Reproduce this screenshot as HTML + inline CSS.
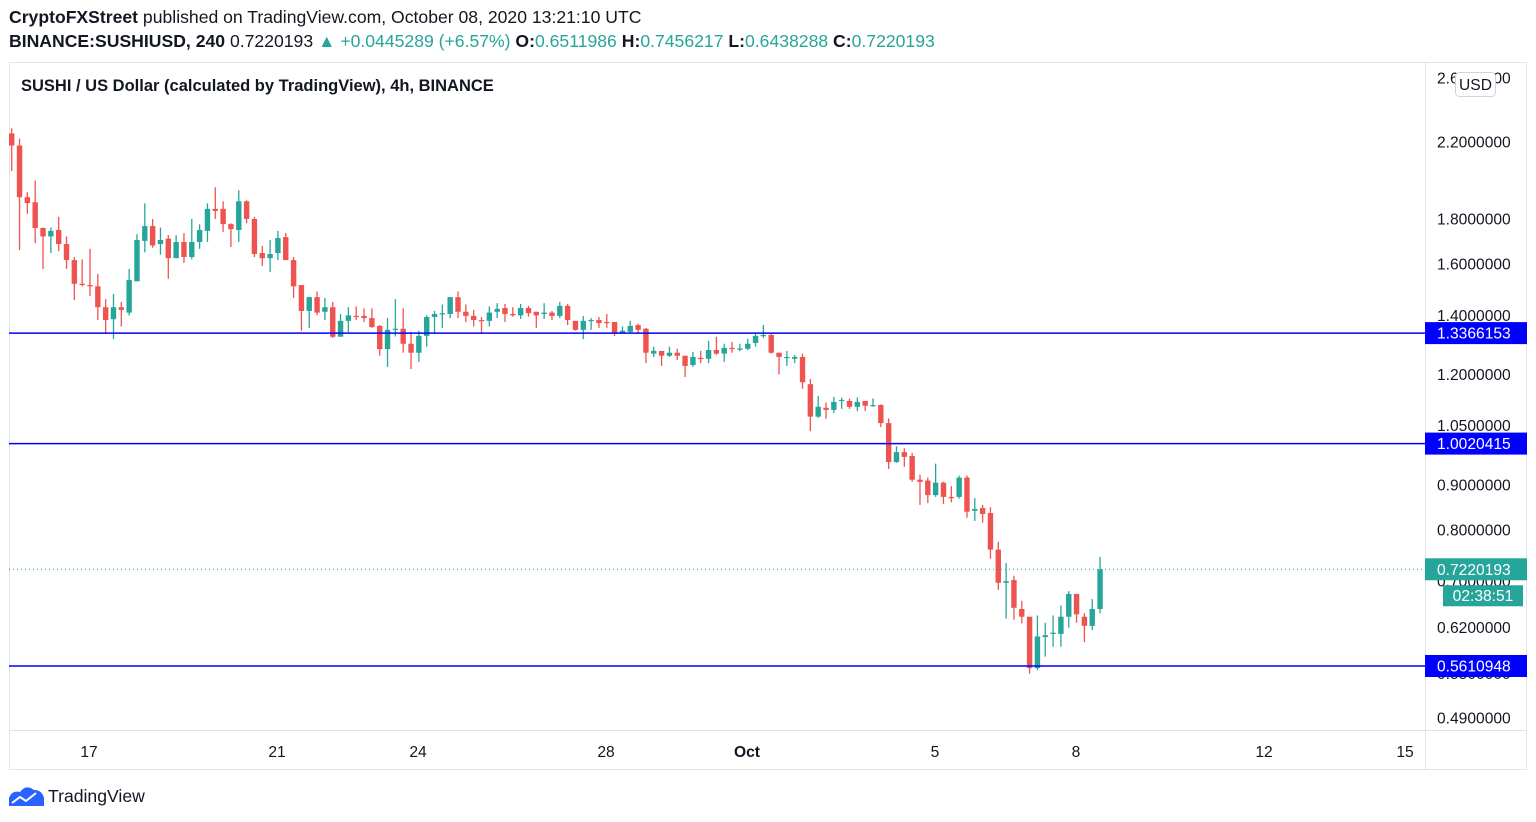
<!DOCTYPE html>
<html><head><meta charset="utf-8"><style>
body{margin:0;width:1536px;height:822px;background:#fff;overflow:hidden;font-family:"Liberation Sans",sans-serif;position:relative}
.hd{position:absolute;left:9px;font-size:17.6px;color:#131722;white-space:nowrap}
.g{color:#26a69a}
</style></head><body>
<div class="hd" style="top:7px"><b>CryptoFXStreet</b> published on TradingView.com, October 08, 2020 13:21:10 UTC</div>
<div class="hd" style="top:31px"><b>BINANCE:SUSHIUSD, 240</b> 0.7220193 <span class="g">▲ +0.0445289 (+6.57%)</span> <b>O:</b><span class="g">0.6511986</span> <b>H:</b><span class="g">0.7456217</span> <b>L:</b><span class="g">0.6438288</span> <b>C:</b><span class="g">0.7220193</span></div>
<svg id="c" width="1536" height="822" style="position:absolute;left:0;top:0"></svg>
<script>
const opens=[2.25,2.18,1.905,1.88,1.758,1.72,1.749,1.686,1.617,1.52,1.515,1.51,1.43,1.386,1.43,1.41,1.53,1.70,1.767,1.686,1.71,1.625,1.695,1.63,1.695,1.745,1.848,1.848,1.776,1.749,
1.885,1.80,1.647,1.625,1.647,1.717,1.617,1.515,1.416,1.468,1.413,1.43,1.324,1.38,1.398,1.398,1.39,1.362,1.282,1.348,1.352,1.30,1.27,1.327,1.394,1.405,1.405,1.468,
1.413,1.398,1.383,1.38,1.413,1.427,1.405,1.40,1.427,1.413,1.405,1.41,1.398,1.435,1.38,1.348,1.38,1.383,1.376,1.376,1.338,1.341,1.365,1.352,1.267,1.276,1.26,1.27,
1.26,1.23,1.253,1.25,1.279,1.267,1.286,1.28,1.283,1.303,1.327,1.33,1.27,1.253,1.25,1.256,1.17,1.075,1.10,1.094,1.12,1.12,1.103,1.12,1.106,1.108,1.057,0.955,
0.98,0.97,0.912,0.91,0.876,0.905,0.872,0.872,0.917,0.841,0.847,0.836,0.76,0.697,0.702,0.651,0.638,0.558,0.605,0.61,0.61,0.638,0.677,0.638,0.623,0.651];
const highs=[2.28,2.22,1.93,1.99,1.76,1.76,1.81,1.72,1.63,1.62,1.665,1.56,1.46,1.48,1.45,1.58,1.73,1.875,1.80,1.76,1.726,1.725,1.735,1.80,1.775,1.875,1.955,1.885,1.78,1.94,
1.89,1.81,1.678,1.704,1.745,1.735,1.63,1.515,1.47,1.49,1.465,1.45,1.405,1.43,1.433,1.426,1.426,1.365,1.39,1.46,1.426,1.34,1.345,1.40,1.416,1.44,1.468,1.49,
1.44,1.42,1.394,1.433,1.445,1.442,1.43,1.442,1.435,1.413,1.445,1.416,1.45,1.442,1.38,1.398,1.39,1.394,1.405,1.376,1.36,1.38,1.37,1.355,1.29,1.276,1.29,1.283,
1.26,1.273,1.276,1.31,1.324,1.30,1.306,1.30,1.317,1.334,1.365,1.338,1.27,1.276,1.263,1.267,1.186,1.135,1.115,1.132,1.13,1.127,1.13,1.12,1.127,1.11,1.07,0.995,
0.99,0.978,0.924,0.917,0.951,0.907,0.897,0.922,0.922,0.869,0.854,0.849,0.776,0.734,0.71,0.665,0.638,0.64,0.628,0.64,0.657,0.682,0.677,0.644,0.668,0.7456];
const lows=[2.04,1.66,1.825,1.69,1.58,1.647,1.655,1.58,1.457,1.51,1.472,1.383,1.334,1.316,1.36,1.40,1.53,1.65,1.67,1.64,1.54,1.625,1.605,1.62,1.665,1.695,1.80,1.74,1.673,1.695,
1.78,1.63,1.592,1.568,1.617,1.617,1.465,1.345,1.355,1.40,1.383,1.32,1.324,1.34,1.383,1.376,1.355,1.26,1.224,1.325,1.27,1.217,1.24,1.29,1.334,1.355,1.39,1.39,
1.375,1.36,1.334,1.36,1.39,1.376,1.395,1.387,1.395,1.355,1.387,1.383,1.39,1.365,1.345,1.316,1.348,1.355,1.355,1.327,1.334,1.338,1.334,1.236,1.256,1.227,1.256,1.246,
1.192,1.224,1.236,1.236,1.263,1.24,1.27,1.275,1.279,1.29,1.32,1.267,1.20,1.227,1.236,1.156,1.035,1.072,1.069,1.085,1.097,1.097,1.091,1.091,1.103,1.046,0.938,0.953,
0.943,0.907,0.854,0.858,0.872,0.856,0.86,0.868,0.826,0.819,0.815,0.742,0.684,0.635,0.633,0.627,0.55,0.555,0.575,0.59,0.59,0.62,0.628,0.597,0.616,0.6438];
const closes=[2.18,1.905,1.876,1.758,1.72,1.745,1.686,1.617,1.52,1.515,1.51,1.43,1.383,1.43,1.42,1.535,1.704,1.767,1.68,1.704,1.625,1.695,1.63,1.695,1.749,1.848,1.838,1.776,1.753,1.885,
1.80,1.643,1.625,1.643,1.713,1.617,1.51,1.416,1.468,1.41,1.43,1.324,1.38,1.40,1.394,1.39,1.358,1.282,1.348,1.352,1.30,1.27,1.327,1.394,1.405,1.408,1.468,1.413,
1.398,1.383,1.38,1.41,1.424,1.405,1.40,1.427,1.408,1.40,1.41,1.398,1.435,1.383,1.348,1.38,1.383,1.372,1.372,1.338,1.345,1.362,1.348,1.27,1.276,1.26,1.27,1.26,
1.227,1.256,1.25,1.279,1.267,1.286,1.283,1.284,1.30,1.327,1.33,1.27,1.256,1.256,1.256,1.176,1.075,1.103,1.094,1.117,1.123,1.103,1.117,1.106,1.108,1.057,0.955,0.98,
0.968,0.912,0.907,0.876,0.905,0.872,0.869,0.917,0.839,0.845,0.834,0.76,0.697,0.70,0.653,0.638,0.558,0.606,0.608,0.612,0.638,0.677,0.642,0.623,0.651,0.7220193];
const priceTicks=[2.6,2.2,1.8,1.6,1.4,1.2,1.05,0.9,0.8,0.7,0.62,0.55,0.49];
const tickLabels=["2.6000000","2.2000000","1.8000000","1.6000000","1.4000000","1.2000000","1.0500000","0.9000000","0.8000000","0.7000000","0.6200000","0.5500000","0.4900000"];
const dateOffsets=[0,4,7,11,14,18,21,25,28];
const dateLabels=["17","21","24","28","Oct","5","8","12","15"];
const levels=[1.3366153,1.0020415,0.5610948];
const levelLabels=["1.3366153","1.0020415","0.5610948"];
const lastPrice=0.7220193, lastLabel="0.7220193", countdown="02:38:51";

const NS="http://www.w3.org/2000/svg", svg=document.getElementById('c');
function y(p){return 142-383.5*Math.log(p/2.2);}
function xi(i){return 11.7+i*7.83;}
function xd(d){return 89+d*47;}
function mk(t,a,parent){const e=document.createElementNS(NS,t);for(const k in a)e.setAttribute(k,a[k]);(parent||svg).appendChild(e);return e;}
let f=mk('rect',{x:9.5,y:62.5,width:1517,height:707,fill:'none',stroke:'#e0e3eb'});


mk('line',{x1:1425.5,y1:62,x2:1425.5,y2:770,stroke:'#e0e3eb'});
mk('line',{x1:9,y1:730.5,x2:1527,y2:730.5,stroke:'#e0e3eb'});
let title=mk('text',{x:21,y:91,'font-size':16.5,'font-weight':'bold',fill:'#131722'});
title.textContent='SUSHI / US Dollar (calculated by TradingView), 4h, BINANCE';


const clip=mk('clipPath',{id:'ax'});mk('rect',{x:1426,y:63,width:101,height:667},clip);
const axg=mk('g',{'clip-path':'url(#ax)'});
priceTicks.forEach((p,i)=>{const t=mk('text',{x:1437,y:y(p)+5.5,'font-size':15.6,fill:'#131722'},axg);t.textContent=tickLabels[i];

});
dateOffsets.forEach((d,i)=>{const t=mk('text',{x:xd(d),y:757,'font-size':15.6,fill:'#131722','text-anchor':'middle','font-weight':dateLabels[i]=='Oct'?'bold':'normal'});t.textContent=dateLabels[i];

});
const cg=mk('g',{});


opens.forEach((o,i)=>{const c=closes[i],col=c>=o?'#26a69a':'#ef5350',x=xi(i);
mk('line',{x1:x,y1:y(highs[i]),x2:x,y2:y(lows[i]),stroke:col,'stroke-width':1.3},cg);
const t=y(Math.max(o,c)),b=y(Math.min(o,c));
const r=mk('rect',{x:x-2.7,y:t,width:5.4,height:Math.max(1.2,b-t),fill:col},cg);

});
levels.forEach((p,i)=>{const yy=y(p);
const l=mk('line',{x1:9,y1:yy,x2:1425,y2:yy,stroke:'#0000ff','stroke-width':1.5});


mk('rect',{x:1425,y:yy-11,width:102,height:22,fill:'#0000ff'});
const t=mk('text',{x:1437,y:yy+5.5,'font-size':15.6,fill:'#fff'});t.textContent=levelLabels[i];

});
const ly=y(lastPrice);
mk('line',{x1:9,y1:ly,x2:1425,y2:ly,stroke:'#26a69a','stroke-dasharray':'1 3'});
mk('rect',{x:1425,y:ly-11,width:102,height:22,fill:'#26a69a'});
let lt=mk('text',{x:1437,y:ly+5.5,'font-size':15.6,fill:'#fff'});lt.textContent=lastLabel;


mk('rect',{x:1443,y:ly+16,width:80,height:21,fill:'#26a69a'});
let ct=mk('text',{x:1483,y:ly+31.5,'font-size':15.6,fill:'#fff','text-anchor':'middle'});ct.textContent=countdown;


let ub=mk('rect',{x:1455.5,y:72.5,width:40,height:24,rx:4,fill:'#fff',stroke:'#d1d4dc'});


let ut=mk('text',{x:1475.5,y:90,'font-size':15.6,fill:'#131722','text-anchor':'middle'});ut.textContent='USD';
const lg=mk('g',{});


mk('path',{d:'M9 806 L9 798 Q12 790 20 792 Q26 784 34 790 Q42 790 44 798 L44 806 Z',fill:'#2962ff'},lg);
mk('path',{d:'M12 803 L20 797 L26 801 L36 793',fill:'none',stroke:'#fff','stroke-width':2},lg);
let lgt=mk('text',{x:48,y:802,'font-size':17.6,fill:'#131722'},lg);lgt.textContent='TradingView';
</script>
</body></html>
